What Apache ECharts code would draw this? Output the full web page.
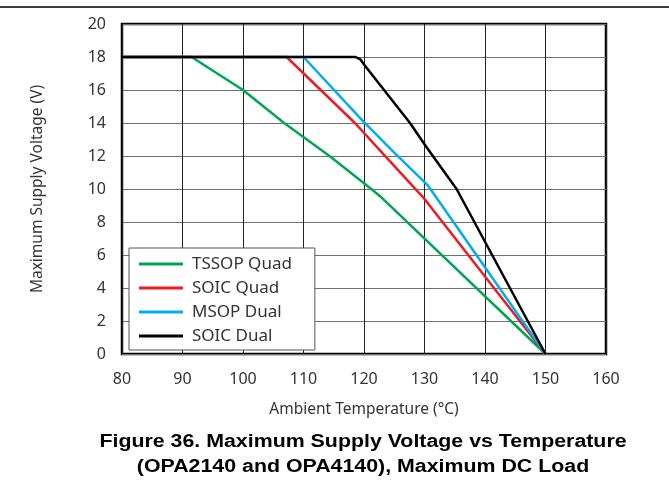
<!DOCTYPE html>
<html>
<head>
<meta charset="utf-8">
<script src="https://cdn.jsdelivr.net/npm/echarts@6/dist/echarts.min.js"></script>
<style>
  html, body { margin: 0; padding: 0; background: #fff; }
  #chart { width: 669px; height: 492px; }
</style>
</head>
<body>
<div id="chart"></div>
<script>
// data: [temperature °C, max supply V]
const tssopQuad = [[80, 18], [91.5, 18], [100, 16], [106.8, 14], [114.3, 12], [121.2, 10], [123, 9.45], [150, 0]];
const soicQuad = [[80, 18], [107.2, 18], [118.5, 14], [124, 11.8], [130, 9.4], [150, 0]];
const msopDual = [[80, 18], [110, 18], [119.6, 14.2], [125, 12.2], [130.6, 10.2], [150, 0]];
const soicDual = [[80, 18], [118.6, 18], [119.4, 17.85], [120.1, 17.5], [127.6, 14], [130.4, 12.5], [135.3, 10], [150, 0]];

const seriesNames = ["TSSOP Quad", "SOIC Quad", "MSOP Dual", "SOIC Dual"];
const seriesColors = ["#00a651", "#ed1c24", "#00aeef", "#000000"];
const seriesData = [tssopQuad, soicQuad, msopDual, soicDual];

const xTicks = { min: 80, max: 160, step: 10 };
const yTicks = { min: 0, max: 20, step: 2 };

const titleLines = [
  "Figure 36. Maximum Supply Voltage vs Temperature",
  "(OPA2140 and OPA4140), Maximum DC Load",
];

const font = "'Noto Sans', 'Open Sans', sans-serif";

var myChart = echarts.init(document.getElementById("chart"));
var option = {
  animation: false,
  grid: {
    left: 122,
    right: 63,
    top: 24,
    bottom: 138,
    show: true,
    borderColor: "#000",
    borderWidth: 2.5,
  },
  legend: {
    orient: "vertical",
    left: 129,
    top: 248,
    padding: [6, 23, 4, 10],
    itemWidth: 44,
    itemHeight: 3,
    itemGap: 4,
    icon: "rect",
    backgroundColor: "#fff",
    borderColor: "#555",
    borderWidth: 1,
    textStyle: {
      fontFamily: font,
      fontSize: 17,
      color: "#333",
      lineHeight: 20,
      padding: [0, 0, 0, 4],
    },
    data: seriesNames,
  },
  xAxis: {
    type: "value",
    min: xTicks.min,
    max: xTicks.max,
    interval: xTicks.step,
    name: "Ambient Temperature (°C)",
    nameLocation: "middle",
    nameGap: 48,
    nameTextStyle: { fontFamily: font, fontSize: 15.5, color: "#333" },
    axisLine: { show: false },
    axisTick: { show: false },
    axisLabel: { fontFamily: font, fontSize: 16, color: "#333", margin: 17 },
    splitLine: { show: true, lineStyle: { color: "#222", width: 1 } },
  },
  yAxis: {
    type: "value",
    min: yTicks.min,
    max: yTicks.max,
    interval: yTicks.step,
    name: "Maximum Supply Voltage (V)",
    nameLocation: "middle",
    nameGap: 76,
    nameTextStyle: { fontFamily: font, fontSize: 15.5, color: "#333" },
    axisLine: { show: false },
    axisTick: { show: false },
    axisLabel: { fontFamily: font, fontSize: 16, color: "#333", margin: 16 },
    splitLine: { show: true, lineStyle: { color: "#6f6f6f", width: 1.2 } },
  },
  series: seriesNames.map(function (name, i) {
    return {
      name: name,
      type: "line",
      data: seriesData[i],
      showSymbol: false,
      symbol: "none",
      color: seriesColors[i],
      lineStyle: { color: seriesColors[i], width: 2.5 },
      z: 3 + i,
    };
  }),
  graphic: [
    {
      type: "line",
      shape: { x1: 0, y1: 7, x2: 669, y2: 7 },
      style: { stroke: "#000", lineWidth: 1.5 },
    },
    {
      type: "text",
      x: 363,
      y: 430,
      scaleX: 1.22,
      style: {
        text: titleLines.join("\n"),
        fontFamily: "'Liberation Sans', Arial, sans-serif",
        fontWeight: "bold",
        fontSize: 17.5,
        lineHeight: 25,
        fill: "#000",
        textAlign: "center",
      },
    },
  ],
};
option && myChart.setOption(option, true);
</script>
</body>
</html>
